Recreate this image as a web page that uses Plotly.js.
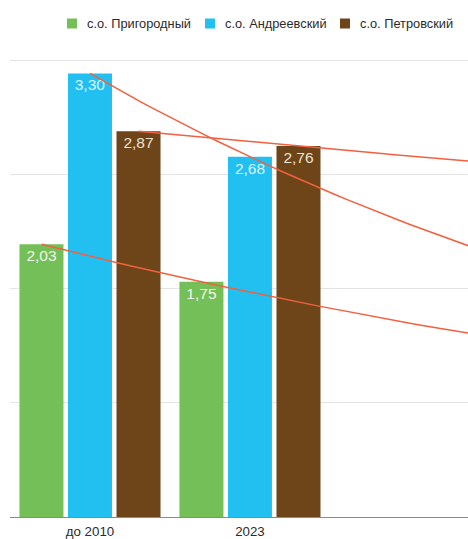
<!DOCTYPE html>
<html>
<head>
<meta charset="utf-8">
<script src="https://cdn.plot.ly/plotly-3.0.1.min.js"></script>
<style>
  html, body { margin: 0; padding: 0; background: #ffffff; }
  #chart { width: 468px; height: 539px; }
</style>
</head>
<body>
<div id="chart"></div>
<script>
// Periods on the x axis
const categories = ['до 2010', '2023'];

// Series names and values for each settlement district
const seriesNames = ['с.о. Пригородный', 'с.о. Андреевский', 'с.о. Петровский'];
const prigorodny = [2.03, 1.75];
const andreevsky = [3.30, 2.68];
const petrovsky  = [2.87, 2.76];

const seriesValues = [prigorodny, andreevsky, petrovsky];
const seriesColors = ['#74bf57', '#22c0f1', '#6d4518'];
const labelColors  = ['#f1f8ec', '#dcf3fc', '#eee2d2'];

const W = 468, H = 539;
const M = { l: 10, r: 0, t: 58, b: 22 };
const plotW = W - M.l - M.r;
const plotH = H - M.t - M.b;

const bargap = 0.09;
const nSeries = seriesValues.length;
const slot = (1 - bargap) / nSeries;
const xPos = categories.map((_, i) => i);

const traces = [];

seriesValues.forEach((vals, s) => {
  traces.push({
    type: 'bar',
    name: seriesNames[s],
    x: xPos,
    y: vals,
    marker: { color: seriesColors[s], line: { width: 0 } },
    texttemplate: '%{y:.2f}',
    textposition: 'inside',
    insidetextanchor: 'end',
    insidetextfont: { family: 'Liberation Sans, Arial, sans-serif', size: 15.5, color: labelColors[s] },
    showlegend: false,
    hoverinfo: 'skip'
  });
});

// Exponential trend line through the tops of each series' bars
seriesValues.forEach((vals, s) => {
  const offset = (s - (nSeries - 1) / 2) * slot;
  const x0 = xPos[0] + offset;
  const ratio = vals[1] / vals[0];
  const tx = [], ty = [];
  for (let k = 0; k <= 40; k++) {
    const x = x0 + k * 0.08;
    tx.push(x);
    ty.push(vals[0] * Math.pow(ratio, x - x0));
  }
  traces.push({
    type: 'scatter',
    mode: 'lines',
    x: tx,
    y: ty,
    line: { color: '#f2603f', width: 1.5 },
    showlegend: false,
    hoverinfo: 'skip'
  });
});

// Legend row drawn as swatches and labels above the plot
const px = v => (v - M.l) / plotW;
const py = v => (H - M.b - v) / plotH;
const swatchLeft = [67, 205, 340];
const shapes = [];
const annotations = [];
seriesNames.forEach((name, s) => {
  shapes.push({
    type: 'rect', xref: 'paper', yref: 'paper',
    x0: px(swatchLeft[s]), x1: px(swatchLeft[s] + 10),
    y0: py(28.5), y1: py(18.5),
    fillcolor: seriesColors[s], line: { width: 0 }
  });
  annotations.push({
    xref: 'paper', yref: 'paper',
    x: px(swatchLeft[s] + 18), y: py(23.5),
    xanchor: 'left', yanchor: 'middle',
    text: name, showarrow: false,
    font: { size: 12.8, color: '#2b2b2b' }
  });
});

const layout = {
  width: W,
  height: H,
  margin: { l: M.l, r: M.r, t: M.t, b: M.b, pad: 0 },
  paper_bgcolor: '#ffffff',
  plot_bgcolor: '#ffffff',
  separators: ', ',
  barmode: 'group',
  bargap: bargap,
  bargroupgap: 0.093,
  font: { family: 'Liberation Sans, Arial, sans-serif', color: '#333333' },
  showlegend: false,
  shapes: shapes,
  annotations: annotations,
  xaxis: {
    type: 'linear',
    range: [-0.5, 2.363],
    tickvals: xPos,
    ticktext: categories,
    tickfont: { size: 13.3, color: '#2b2b2b' },
    ticklabelstandoff: 2,
    showgrid: false,
    zeroline: false,
    showline: true,
    linecolor: '#8a8a8a',
    linewidth: 1,
    ticks: '',
    fixedrange: true
  },
  yaxis: {
    range: [0, 3.415],
    tick0: 0,
    dtick: 0.85,
    showticklabels: false,
    gridcolor: '#e4e4e4',
    gridwidth: 1,
    zeroline: false,
    showline: false,
    ticks: '',
    fixedrange: true
  }
};

Plotly.newPlot('chart', traces, layout, { staticPlot: true, displayModeBar: false });
</script>
</body>
</html>
